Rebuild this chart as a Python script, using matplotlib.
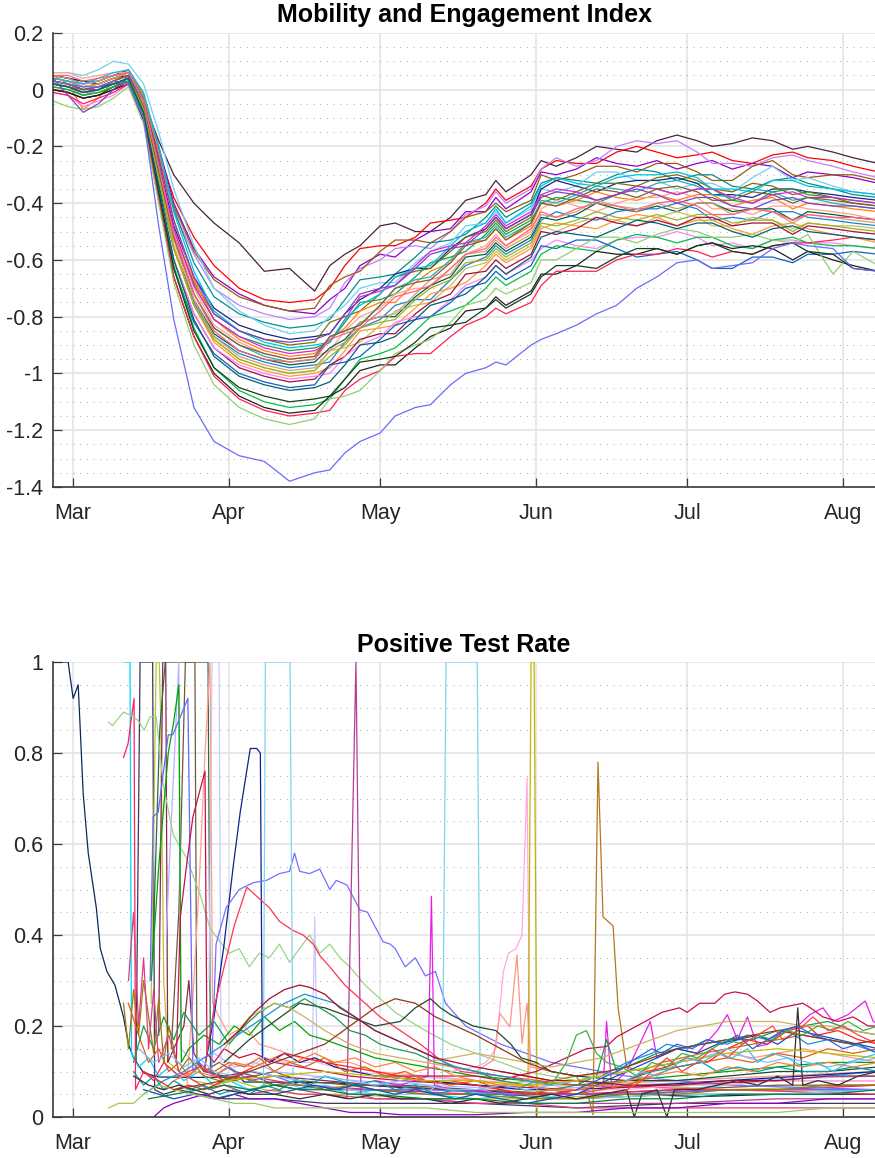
import numpy as np
import pandas as pd
import matplotlib
matplotlib.use('Agg')
import matplotlib.pyplot as plt
import matplotlib.dates as mdates
from matplotlib.ticker import MultipleLocator, FuncFormatter

plt.rcParams['font.family'] = ['Liberation Sans', 'DejaVu Sans']
plt.rcParams['axes.unicode_minus'] = False

# all days are counted from 1 March 2020
DAY0 = pd.Timestamp('2020-03-01')

# ─── Mobility and Engagement Index (one row per region) ───
mobility_days = [-4, -1, 2, 5, 8, 11,
                 14, 17, 20, 24, 28, 33, 38, 43, 48,
                 51, 54, 57, 61, 64, 68, 71, 75, 78, 82, 84, 86, 91,
                 93, 96, 100, 104, 108, 112, 116, 120, 124, 127, 131, 135, 139, 143, 146, 151, 155, 160]

mobility_colors = ['#4a2040', '#ff0000', '#8e00c8', '#c080ff', '#9a5a10', '#009090',
                   '#70d0f0', '#102880', '#807000', '#10a050', '#ff7f10', '#ffa090',
                   '#20b0b0', '#e020e0', '#006040', '#2080d0', '#c0c060', '#ff9930',
                   '#a01040', '#ff80ff', '#1060c0', '#00c040', '#202020', '#ff2050',
                   '#90d070', '#104020', '#d0a070', '#00c0e0', '#806030', '#8040c0',
                   '#a0b020', '#6a6aff', '#ff6080', '#006070']

mobility_values = [
    [0.04, 0.03, 0.01, 0.02, 0.04, 0.06, -0.04, -0.18, -0.30, -0.40, -0.47, -0.54, -0.64, -0.63, -0.71, -0.62, -0.58, -0.55, -0.48, -0.47, -0.50, -0.50, -0.45, -0.39, -0.37, -0.32, -0.36, -0.30, -0.25, -0.27, -0.24, -0.20, -0.21, -0.22, -0.18, -0.16, -0.18, -0.20, -0.19, -0.17, -0.18, -0.21, -0.20, -0.22, -0.24, -0.26],
    [0.03, 0.02, 0.00, 0.01, 0.03, 0.05, -0.06, -0.22, -0.38, -0.52, -0.62, -0.70, -0.74, -0.75, -0.74, -0.70, -0.62, -0.56, -0.55, -0.55, -0.52, -0.47, -0.46, -0.45, -0.40, -0.35, -0.39, -0.34, -0.28, -0.25, -0.26, -0.26, -0.22, -0.20, -0.22, -0.24, -0.23, -0.22, -0.25, -0.26, -0.23, -0.22, -0.24, -0.25, -0.27, -0.29],
    [0.05, 0.04, 0.02, 0.03, 0.05, 0.07, -0.02, -0.20, -0.40, -0.56, -0.66, -0.72, -0.76, -0.78, -0.79, -0.74, -0.70, -0.62, -0.58, -0.59, -0.53, -0.50, -0.49, -0.43, -0.43, -0.38, -0.42, -0.36, -0.29, -0.30, -0.28, -0.24, -0.26, -0.27, -0.25, -0.28, -0.26, -0.25, -0.28, -0.26, -0.27, -0.31, -0.29, -0.30, -0.31, -0.33],
    [0.02, 0.01, -0.02, 0.00, 0.03, 0.05, -0.07, -0.25, -0.43, -0.58, -0.70, -0.76, -0.79, -0.81, -0.80, -0.77, -0.68, -0.63, -0.60, -0.56, -0.55, -0.56, -0.50, -0.44, -0.41, -0.36, -0.40, -0.35, -0.28, -0.24, -0.27, -0.25, -0.20, -0.18, -0.19, -0.18, -0.22, -0.26, -0.26, -0.27, -0.24, -0.23, -0.25, -0.27, -0.29, -0.31],
    [0.03, 0.02, 0.00, 0.01, 0.02, 0.04, -0.06, -0.24, -0.41, -0.57, -0.67, -0.73, -0.76, -0.78, -0.77, -0.69, -0.66, -0.64, -0.57, -0.53, -0.53, -0.54, -0.50, -0.45, -0.43, -0.40, -0.43, -0.39, -0.30, -0.32, -0.30, -0.27, -0.27, -0.29, -0.26, -0.26, -0.29, -0.32, -0.32, -0.27, -0.25, -0.30, -0.31, -0.30, -0.30, -0.32],
    [0.05, 0.04, 0.03, 0.03, 0.05, 0.06, -0.03, -0.21, -0.42, -0.61, -0.73, -0.79, -0.82, -0.84, -0.83, -0.81, -0.74, -0.67, -0.66, -0.65, -0.59, -0.54, -0.53, -0.51, -0.45, -0.41, -0.45, -0.40, -0.33, -0.31, -0.32, -0.33, -0.30, -0.28, -0.29, -0.32, -0.30, -0.30, -0.34, -0.35, -0.32, -0.31, -0.33, -0.35, -0.37, -0.38],
    [0.06, 0.06, 0.05, 0.07, 0.10, 0.09, 0.02, -0.15, -0.35, -0.55, -0.70, -0.78, -0.83, -0.86, -0.85, -0.80, -0.76, -0.70, -0.68, -0.68, -0.61, -0.57, -0.54, -0.48, -0.47, -0.43, -0.47, -0.42, -0.35, -0.36, -0.34, -0.29, -0.29, -0.32, -0.32, -0.35, -0.33, -0.33, -0.36, -0.31, -0.27, -0.32, -0.31, -0.34, -0.36, -0.37],
    [0.05, 0.04, 0.03, 0.02, 0.04, 0.05, -0.06, -0.26, -0.48, -0.66, -0.77, -0.83, -0.86, -0.88, -0.87, -0.86, -0.79, -0.74, -0.70, -0.65, -0.63, -0.63, -0.56, -0.52, -0.49, -0.45, -0.49, -0.44, -0.35, -0.32, -0.34, -0.36, -0.33, -0.32, -0.32, -0.31, -0.33, -0.37, -0.37, -0.38, -0.35, -0.35, -0.36, -0.37, -0.38, -0.39],
    [0.01, 0.00, -0.02, -0.01, 0.01, 0.04, -0.08, -0.30, -0.50, -0.68, -0.79, -0.85, -0.88, -0.90, -0.89, -0.82, -0.80, -0.78, -0.72, -0.66, -0.64, -0.63, -0.57, -0.52, -0.50, -0.46, -0.50, -0.45, -0.37, -0.39, -0.36, -0.33, -0.33, -0.34, -0.31, -0.30, -0.32, -0.35, -0.36, -0.33, -0.34, -0.37, -0.36, -0.38, -0.40, -0.41],
    [0.02, 0.01, -0.01, 0.00, 0.02, 0.04, -0.07, -0.29, -0.51, -0.69, -0.81, -0.87, -0.90, -0.92, -0.91, -0.89, -0.82, -0.75, -0.74, -0.72, -0.66, -0.61, -0.59, -0.57, -0.51, -0.47, -0.51, -0.46, -0.40, -0.38, -0.39, -0.40, -0.37, -0.34, -0.35, -0.37, -0.35, -0.35, -0.39, -0.40, -0.36, -0.35, -0.37, -0.38, -0.39, -0.40],
    [0.05, 0.02, -0.07, -0.03, 0.03, 0.07, -0.02, -0.22, -0.46, -0.67, -0.81, -0.88, -0.92, -0.94, -0.93, -0.88, -0.84, -0.78, -0.75, -0.75, -0.68, -0.64, -0.61, -0.54, -0.53, -0.49, -0.53, -0.48, -0.40, -0.41, -0.39, -0.36, -0.38, -0.39, -0.37, -0.39, -0.37, -0.37, -0.41, -0.39, -0.38, -0.42, -0.40, -0.41, -0.42, -0.43],
    [0.06, 0.06, 0.04, 0.05, 0.06, 0.06, -0.04, -0.27, -0.50, -0.70, -0.83, -0.89, -0.93, -0.95, -0.94, -0.92, -0.85, -0.80, -0.77, -0.72, -0.70, -0.70, -0.63, -0.58, -0.55, -0.51, -0.55, -0.50, -0.42, -0.39, -0.41, -0.43, -0.40, -0.38, -0.38, -0.36, -0.38, -0.42, -0.42, -0.44, -0.41, -0.41, -0.42, -0.43, -0.44, -0.46],
    [0.03, 0.02, 0.01, 0.02, 0.04, 0.06, -0.05, -0.28, -0.52, -0.72, -0.84, -0.90, -0.94, -0.96, -0.95, -0.87, -0.85, -0.83, -0.76, -0.70, -0.67, -0.66, -0.60, -0.54, -0.52, -0.48, -0.52, -0.47, -0.39, -0.40, -0.37, -0.34, -0.35, -0.36, -0.33, -0.32, -0.34, -0.37, -0.38, -0.35, -0.36, -0.39, -0.38, -0.40, -0.41, -0.42],
    [0.02, 0.01, 0.00, 0.00, 0.03, 0.05, -0.06, -0.27, -0.49, -0.69, -0.81, -0.87, -0.91, -0.93, -0.92, -0.89, -0.81, -0.73, -0.71, -0.69, -0.62, -0.57, -0.55, -0.54, -0.48, -0.44, -0.48, -0.43, -0.37, -0.35, -0.36, -0.39, -0.37, -0.34, -0.35, -0.37, -0.35, -0.35, -0.38, -0.40, -0.37, -0.36, -0.38, -0.38, -0.39, -0.40],
    [0.00, -0.01, -0.03, -0.02, 0.01, 0.03, -0.09, -0.33, -0.56, -0.74, -0.86, -0.92, -0.95, -0.97, -0.96, -0.91, -0.88, -0.82, -0.80, -0.80, -0.73, -0.69, -0.66, -0.59, -0.58, -0.54, -0.57, -0.52, -0.45, -0.46, -0.44, -0.40, -0.42, -0.43, -0.41, -0.43, -0.40, -0.40, -0.43, -0.42, -0.42, -0.46, -0.43, -0.44, -0.45, -0.46],
    [0.02, 0.01, -0.01, 0.00, 0.02, 0.04, -0.08, -0.32, -0.56, -0.75, -0.87, -0.93, -0.96, -0.98, -0.97, -0.96, -0.89, -0.84, -0.81, -0.76, -0.74, -0.74, -0.67, -0.62, -0.59, -0.55, -0.58, -0.53, -0.46, -0.43, -0.45, -0.46, -0.43, -0.42, -0.42, -0.40, -0.42, -0.46, -0.45, -0.46, -0.43, -0.43, -0.45, -0.46, -0.47, -0.48],
    [0.02, 0.02, 0.00, 0.01, 0.03, 0.05, -0.07, -0.31, -0.56, -0.76, -0.88, -0.95, -0.98, -1.00, -0.99, -0.92, -0.91, -0.89, -0.83, -0.78, -0.76, -0.75, -0.69, -0.63, -0.61, -0.57, -0.60, -0.55, -0.48, -0.50, -0.47, -0.45, -0.46, -0.48, -0.45, -0.43, -0.45, -0.48, -0.48, -0.45, -0.46, -0.49, -0.47, -0.48, -0.48, -0.49],
    [0.04, 0.03, 0.01, 0.02, 0.04, 0.06, -0.05, -0.29, -0.55, -0.76, -0.89, -0.96, -0.99, -1.01, -1.00, -0.98, -0.92, -0.85, -0.84, -0.83, -0.77, -0.72, -0.70, -0.68, -0.62, -0.58, -0.61, -0.56, -0.49, -0.47, -0.48, -0.49, -0.46, -0.44, -0.45, -0.48, -0.46, -0.46, -0.49, -0.51, -0.48, -0.47, -0.49, -0.51, -0.52, -0.54],
    [0.00, -0.01, -0.03, -0.02, 0.00, 0.03, -0.10, -0.36, -0.60, -0.79, -0.91, -0.98, -1.01, -1.03, -1.02, -0.97, -0.94, -0.88, -0.86, -0.86, -0.79, -0.75, -0.72, -0.65, -0.64, -0.60, -0.63, -0.58, -0.50, -0.51, -0.49, -0.45, -0.47, -0.48, -0.46, -0.48, -0.45, -0.45, -0.48, -0.47, -0.47, -0.51, -0.48, -0.49, -0.50, -0.51],
    [-0.01, -0.02, -0.06, -0.04, -0.02, 0.02, -0.11, -0.36, -0.60, -0.79, -0.91, -0.97, -1.00, -1.02, -1.01, -1.00, -0.94, -0.90, -0.87, -0.82, -0.80, -0.80, -0.74, -0.69, -0.66, -0.62, -0.65, -0.60, -0.56, -0.53, -0.55, -0.56, -0.53, -0.52, -0.52, -0.50, -0.52, -0.55, -0.54, -0.56, -0.53, -0.53, -0.54, -0.54, -0.55, -0.56],
    [0.03, 0.02, 0.00, 0.01, 0.02, 0.03, -0.10, -0.38, -0.63, -0.82, -0.93, -1.00, -1.03, -1.05, -1.04, -0.97, -0.96, -0.94, -0.88, -0.83, -0.81, -0.80, -0.75, -0.70, -0.68, -0.64, -0.67, -0.62, -0.55, -0.56, -0.53, -0.53, -0.56, -0.59, -0.58, -0.57, -0.60, -0.63, -0.63, -0.59, -0.59, -0.61, -0.58, -0.58, -0.57, -0.58],
    [0.01, 0.00, -0.02, -0.01, 0.01, 0.03, -0.09, -0.36, -0.62, -0.84, -0.98, -1.06, -1.10, -1.12, -1.11, -1.09, -1.02, -0.95, -0.93, -0.91, -0.85, -0.80, -0.78, -0.76, -0.70, -0.66, -0.69, -0.64, -0.58, -0.55, -0.56, -0.57, -0.53, -0.51, -0.52, -0.54, -0.52, -0.52, -0.55, -0.56, -0.53, -0.52, -0.54, -0.55, -0.55, -0.56],
    [0.00, -0.01, -0.03, -0.02, 0.00, 0.02, -0.11, -0.39, -0.66, -0.87, -1.00, -1.08, -1.12, -1.14, -1.13, -1.08, -1.05, -0.99, -0.97, -0.97, -0.91, -0.87, -0.84, -0.78, -0.77, -0.73, -0.76, -0.71, -0.65, -0.65, -0.62, -0.57, -0.58, -0.58, -0.56, -0.58, -0.55, -0.54, -0.56, -0.55, -0.56, -0.60, -0.57, -0.60, -0.62, -0.64],
    [-0.01, -0.02, -0.05, -0.03, -0.01, 0.02, -0.10, -0.38, -0.66, -0.87, -1.01, -1.09, -1.13, -1.15, -1.14, -1.13, -1.06, -1.02, -0.99, -0.94, -0.93, -0.93, -0.87, -0.83, -0.80, -0.77, -0.79, -0.75, -0.69, -0.64, -0.64, -0.64, -0.60, -0.58, -0.58, -0.56, -0.57, -0.59, -0.57, -0.58, -0.55, -0.54, -0.54, -0.53, -0.52, -0.53],
    [-0.04, -0.06, -0.07, -0.06, -0.03, 0.01, -0.12, -0.40, -0.68, -0.90, -1.04, -1.12, -1.16, -1.18, -1.16, -1.09, -1.08, -1.06, -0.99, -0.93, -0.90, -0.88, -0.82, -0.76, -0.74, -0.70, -0.72, -0.68, -0.60, -0.60, -0.56, -0.52, -0.52, -0.54, -0.51, -0.49, -0.50, -0.52, -0.52, -0.51, -0.53, -0.54, -0.51, -0.65, -0.57, -0.62],
    [0.02, 0.01, -0.01, 0.00, 0.02, 0.04, -0.08, -0.36, -0.63, -0.85, -0.98, -1.05, -1.08, -1.10, -1.09, -1.08, -1.02, -0.96, -0.95, -0.94, -0.89, -0.84, -0.83, -0.82, -0.77, -0.74, -0.77, -0.72, -0.66, -0.62, -0.62, -0.63, -0.59, -0.56, -0.56, -0.58, -0.55, -0.54, -0.57, -0.58, -0.55, -0.54, -0.57, -0.58, -0.63, -0.64],
    [0.05, 0.04, 0.02, 0.03, 0.05, 0.06, -0.05, -0.28, -0.53, -0.74, -0.87, -0.94, -0.97, -0.99, -0.98, -0.92, -0.89, -0.82, -0.80, -0.79, -0.72, -0.67, -0.65, -0.58, -0.57, -0.53, -0.56, -0.51, -0.44, -0.45, -0.43, -0.39, -0.41, -0.42, -0.40, -0.42, -0.40, -0.40, -0.44, -0.42, -0.43, -0.47, -0.44, -0.45, -0.46, -0.47],
    [0.04, 0.03, 0.02, 0.04, 0.06, 0.07, -0.01, -0.20, -0.43, -0.64, -0.78, -0.85, -0.89, -0.91, -0.90, -0.89, -0.81, -0.76, -0.72, -0.66, -0.63, -0.62, -0.55, -0.50, -0.47, -0.42, -0.47, -0.41, -0.34, -0.31, -0.33, -0.34, -0.31, -0.30, -0.30, -0.29, -0.31, -0.35, -0.35, -0.36, -0.32, -0.32, -0.34, -0.35, -0.36, -0.37],
    [0.03, 0.02, 0.00, 0.01, 0.03, 0.05, -0.06, -0.29, -0.52, -0.72, -0.84, -0.90, -0.93, -0.95, -0.94, -0.87, -0.85, -0.83, -0.76, -0.70, -0.68, -0.67, -0.61, -0.55, -0.53, -0.49, -0.53, -0.47, -0.40, -0.41, -0.38, -0.35, -0.36, -0.38, -0.35, -0.34, -0.36, -0.39, -0.39, -0.36, -0.37, -0.40, -0.38, -0.39, -0.40, -0.41],
    [0.04, -0.02, -0.08, -0.05, 0.00, 0.05, -0.04, -0.24, -0.46, -0.66, -0.79, -0.85, -0.88, -0.89, -0.88, -0.86, -0.79, -0.72, -0.70, -0.69, -0.63, -0.58, -0.56, -0.55, -0.49, -0.45, -0.49, -0.44, -0.38, -0.36, -0.37, -0.39, -0.37, -0.35, -0.37, -0.40, -0.38, -0.38, -0.41, -0.42, -0.39, -0.38, -0.40, -0.41, -0.41, -0.42],
    [0.02, 0.01, -0.01, 0.00, 0.02, 0.04, -0.07, -0.31, -0.56, -0.76, -0.88, -0.95, -0.98, -1.00, -0.99, -0.94, -0.90, -0.84, -0.82, -0.81, -0.74, -0.70, -0.67, -0.61, -0.60, -0.56, -0.59, -0.54, -0.47, -0.48, -0.46, -0.43, -0.45, -0.46, -0.44, -0.46, -0.44, -0.44, -0.47, -0.46, -0.46, -0.50, -0.47, -0.48, -0.49, -0.50],
    [0.03, 0.02, 0.01, 0.01, 0.03, 0.02, -0.10, -0.48, -0.81, -1.12, -1.24, -1.29, -1.31, -1.38, -1.35, -1.34, -1.28, -1.24, -1.21, -1.15, -1.12, -1.11, -1.04, -1.00, -0.98, -0.96, -0.97, -0.90, -0.88, -0.86, -0.83, -0.79, -0.76, -0.70, -0.66, -0.61, -0.60, -0.63, -0.62, -0.61, -0.56, -0.54, -0.55, -0.56, -0.63, -0.64],
    [0.05, 0.05, 0.03, 0.04, 0.05, 0.06, -0.04, -0.27, -0.51, -0.72, -0.85, -0.92, -0.95, -0.96, -0.95, -0.88, -0.86, -0.84, -0.78, -0.73, -0.71, -0.69, -0.63, -0.58, -0.56, -0.52, -0.55, -0.49, -0.43, -0.45, -0.42, -0.40, -0.41, -0.43, -0.40, -0.39, -0.41, -0.44, -0.44, -0.42, -0.43, -0.46, -0.44, -0.45, -0.45, -0.46],
    [0.02, 0.01, -0.01, 0.00, 0.02, 0.04, -0.08, -0.34, -0.60, -0.81, -0.94, -1.01, -1.04, -1.06, -1.05, -1.03, -0.97, -0.90, -0.89, -0.87, -0.81, -0.76, -0.74, -0.72, -0.66, -0.62, -0.65, -0.59, -0.52, -0.50, -0.51, -0.52, -0.49, -0.46, -0.47, -0.49, -0.47, -0.47, -0.50, -0.52, -0.49, -0.48, -0.50, -0.51, -0.52, -0.53],
]

# ─── Positive test rate: (color, [(day, rate), ...]) per region ───
rate_curves = [
    ('#0b2a5c', [(-4, 1.0), (-1, 1.0), (0, 0.92), (1, 0.95), (2, 0.71), (3, 0.58), (4.6, 0.46), (5.4, 0.37), (6.7, 0.32), (8.3, 0.29), (10, 0.22), (11, 0.16), (12, 0.13), (14, 0.097), (17, 0.088), (25, 0.087), (33, 0.088), (34, 0.077), (45, 0.076), (52, 0.075), (58, 0.07), (65, 0.065), (75, 0.06), (85, 0.055), (95, 0.05), (110, 0.05), (125, 0.045), (140, 0.05), (160, 0.05)]),
    ('#00d4ff', [(10.3, 1.0), (11.3, 1.0), (11.6, 0.14), (13, 0.11), (15, 0.13), (17, 0.09), (19, 0.11), (22, 0.08), (25, 0.10), (28, 0.07), (31, 0.08), (35, 0.06), (40, 0.07), (45, 0.06), (50, 0.07), (55, 0.05), (60, 0.06), (70, 0.05), (80, 0.04), (90, 0.05), (100, 0.04), (110, 0.05), (120, 0.06), (130, 0.07), (140, 0.08), (150, 0.09), (160, 0.10)]),
    ('#383860', [(12.5, 0.12), (13.3, 1.0), (15.8, 1.0), (16.2, 0.06), (18, 0.05), (21, 0.06), (25, 0.05), (30, 0.04), (40, 0.04), (50, 0.03), (60, 0.03), (80, 0.03), (100, 0.02), (120, 0.03), (140, 0.03), (160, 0.03)]),
    ('#b8c430', [(15.5, 0.25), (16.5, 1.0), (17.1, 1.0), (17.4, 0.88), (18, 0.30), (19, 0.12), (21, 0.10), (24, 0.08), (28, 0.07), (32, 0.08), (38, 0.06), (45, 0.05), (55, 0.05), (70, 0.04), (90, 0.04), (110, 0.05), (130, 0.06), (160, 0.07)]),
    ('#8c2848', [(17, 0.18), (17.8, 1.0), (18.4, 1.0), (18.8, 0.12), (20, 0.15), (22, 0.20), (23, 0.30), (24, 0.14), (26, 0.10), (30, 0.09), (35, 0.10), (40, 0.09), (50, 0.08), (60, 0.07), (75, 0.06), (90, 0.05), (110, 0.05), (130, 0.06), (160, 0.06)]),
    ('#2e6a4a', [(15.8, 0.35), (17.2, 0.85), (18.3, 1.0), (26.8, 1.0), (27.3, 0.10), (29, 0.09), (32, 0.08), (36, 0.09), (40, 0.07), (45, 0.08), (50, 0.06), (60, 0.06), (70, 0.05), (85, 0.05), (100, 0.04), (120, 0.05), (140, 0.05), (160, 0.06)]),
    ('#6e5a3a', [(19.5, 0.15), (21, 0.45), (22.3, 1.0), (24.2, 1.0), (24.6, 0.12), (26, 0.10), (29, 0.12), (32, 0.10), (36, 0.09), (40, 0.10), (45, 0.08), (55, 0.07), (65, 0.07), (80, 0.06), (100, 0.05), (120, 0.06), (140, 0.07), (160, 0.07)]),
    ('#b4b4ff', [(18.5, 0.40), (19.3, 0.60), (21.0, 1.0), (21.4, 0.15), (24, 0.12), (28, 0.14), (32, 0.11), (36, 0.12), (40, 0.10), (48, 0.09), (56, 0.08), (70, 0.07), (90, 0.06), (110, 0.07), (130, 0.08), (160, 0.09)]),
    ('#c8c8ff', [(27.0, 0.30), (27.6, 1.0), (29.0, 1.0), (29.4, 0.10), (32, 0.12), (35, 0.11), (38, 0.13), (42, 0.12), (47.5, 0.12), (48, 0.44), (48.5, 0.12), (55, 0.10), (65, 0.09), (80, 0.08), (100, 0.07), (120, 0.08), (140, 0.09), (160, 0.10)]),
    ('#ffa088', [(22.5, 0.05), (24, 0.30), (25, 0.50), (26.2, 0.80), (27.2, 1.0), (27.7, 0.25), (29, 0.22), (31, 0.18), (34, 0.20), (37, 0.16), (40, 0.15), (45, 0.13), (50, 0.12), (55, 0.12), (60, 0.10), (70, 0.09), (80, 0.08), (90, 0.07), (100, 0.07), (120, 0.08), (140, 0.09), (160, 0.10)]),
    ('#ff2060', [(10, 0.79), (10.9, 0.82), (12.1, 0.92), (12.4, 0.06), (14, 0.10), (16, 0.08), (18, 0.12), (21, 0.09), (25, 0.11), (30, 0.08), (35, 0.09), (45, 0.07), (60, 0.06), (80, 0.05), (100, 0.05), (120, 0.06), (140, 0.06), (160, 0.07)]),
    ('#98d488', [(7, 0.868), (7.8, 0.86), (10, 0.89), (12, 0.88), (13, 0.87), (14.1, 0.85), (15.3, 0.88), (16.5, 0.88), (17.9, 0.73), (19.9, 0.62), (22.5, 0.57), (25.2, 0.49), (27.2, 0.415), (29.2, 0.385), (31, 0.36), (33, 0.37), (35, 0.33), (37, 0.36), (39, 0.35), (41, 0.38), (43, 0.34), (45, 0.37), (47, 0.40), (49, 0.36), (51, 0.38), (53, 0.35), (55, 0.33), (58, 0.29), (61, 0.26), (64, 0.23), (67, 0.21), (70, 0.19), (75, 0.16), (80, 0.14), (85, 0.12), (90, 0.10), (100, 0.08), (115, 0.07), (130, 0.06), (160, 0.06)]),
    ('#00a400', [(15.5, 0.30), (17, 0.55), (18.9, 0.80), (20, 0.87), (21, 0.95), (21.5, 0.12), (23, 0.15), (26, 0.18), (29, 0.16), (32, 0.20), (35, 0.18), (38, 0.22), (41, 0.19), (44, 0.21), (47, 0.18), (50, 0.17), (55, 0.15), (60, 0.13), (70, 0.11), (80, 0.09), (90, 0.08), (100, 0.07), (110, 0.08), (120, 0.09), (130, 0.10), (140, 0.11), (150, 0.12), (160, 0.12)]),
    ('#6666ff', [(15.3, 0.30), (15.9, 0.66), (16.9, 0.67), (18.9, 0.84), (19.8, 0.84), (22.8, 0.92), (23.8, 0.10), (25, 0.12), (28, 0.09), (31, 0.11), (35, 0.08), (40, 0.09), (45, 0.07), (55, 0.06), (70, 0.06), (90, 0.05), (110, 0.05), (130, 0.06), (160, 0.06)]),
    ('#c81048', [(20.5, 0.12), (21.3, 0.44), (22.5, 0.55), (23.8, 0.66), (26.2, 0.76), (26.6, 0.14), (28, 0.12), (30, 0.15), (33, 0.13), (36, 0.14), (40, 0.12), (45, 0.11), (55, 0.09), (65, 0.08), (80, 0.07), (100, 0.06), (120, 0.07), (140, 0.08), (160, 0.08)]),
    ('#102090', [(26, 0.10), (28, 0.22), (30, 0.38), (31.8, 0.55), (33.2, 0.67), (35.2, 0.81), (36.5, 0.81), (37.2, 0.80), (37.6, 0.13), (39, 0.12), (42, 0.14), (45, 0.12), (48, 0.13), (52, 0.11), (56, 0.10), (60, 0.09), (70, 0.08), (80, 0.07), (90, 0.06), (100, 0.06), (115, 0.07), (130, 0.08), (145, 0.09), (160, 0.10)]),
    ('#7070ff', [(27.5, 0.10), (28.4, 0.38), (30.4, 0.46), (33, 0.50), (35.8, 0.515), (38.4, 0.52), (41, 0.535), (43, 0.54), (44, 0.58), (45, 0.54), (47, 0.535), (49, 0.545), (51, 0.50), (52.3, 0.52), (54.4, 0.51), (57, 0.455), (58.5, 0.45), (61.6, 0.385), (63, 0.38), (64, 0.37), (66, 0.33), (68, 0.35), (70, 0.31), (72, 0.32), (74, 0.25), (78, 0.20), (85, 0.16), (95, 0.12), (110, 0.09), (130, 0.07), (160, 0.06)]),
    ('#ff3355', [(26, 0.10), (28, 0.24), (30, 0.33), (32, 0.42), (34.5, 0.505), (36, 0.49), (37, 0.48), (39, 0.46), (41, 0.43), (43.7, 0.41), (45.7, 0.40), (47.7, 0.38), (49, 0.355), (51, 0.33), (54, 0.29), (57, 0.26), (61, 0.22), (65, 0.19), (69, 0.16), (73, 0.125), (77, 0.10), (85, 0.09), (100, 0.07), (130, 0.06), (160, 0.05)]),
    ('#80d4f0', [(30, 0.07), (36, 0.06), (37.8, 0.07), (38.2, 1.0), (43.1, 1.0), (43.7, 0.07), (46, 0.06), (50, 0.07), (55, 0.06), (60, 0.05), (70, 0.05), (73.4, 0.08), (74.1, 1.0), (80.3, 1.0), (80.9, 0.06), (85, 0.05), (90, 0.05), (100, 0.04), (120, 0.05), (140, 0.05), (160, 0.06)]),
    ('#b43c94', [(40, 0.07), (45, 0.06), (50, 0.05), (54.4, 0.04), (56.2, 1.0), (57.2, 0.05), (60, 0.04), (70, 0.04), (80, 0.03), (100, 0.03), (120, 0.03), (140, 0.04), (160, 0.04)]),
    ('#e81ee8', [(60, 0.08), (65, 0.07), (70.5, 0.09), (71.2, 0.485), (71.8, 0.07), (75, 0.06), (80, 0.06), (85, 0.05), (90, 0.05), (95, 0.05), (100, 0.05), (103, 0.06), (105.3, 0.06), (106, 0.21), (107, 0.07), (110, 0.10), (114.7, 0.21), (116, 0.13), (120, 0.15), (124, 0.14), (128, 0.19), (130, 0.225), (132, 0.17), (134, 0.22), (136, 0.155), (138, 0.16), (141, 0.19), (144, 0.20), (146.4, 0.225), (149, 0.24), (151, 0.21), (154, 0.225), (157.4, 0.255), (159, 0.21), (161, 0.20)]),
    ('#ffa8e0', [(75, 0.10), (80, 0.11), (82, 0.12), (84, 0.15), (85.5, 0.32), (86.5, 0.36), (88, 0.37), (89.2, 0.40), (90.2, 0.745), (90.8, 0.08), (95, 0.07), (100, 0.06), (110, 0.06), (120, 0.07), (130, 0.07), (140, 0.08), (160, 0.08)]),
    ('#ff9484', [(70, 0.12), (75, 0.11), (80, 0.10), (83.5, 0.125), (84.8, 0.228), (86.8, 0.198), (88.2, 0.356), (89.2, 0.162), (90.2, 0.25), (91, 0.11), (95, 0.10), (100, 0.09), (110, 0.10), (120, 0.12), (125, 0.13), (130, 0.14), (135, 0.13), (140, 0.14), (145, 0.15), (150, 0.14), (155, 0.13), (160, 0.12)]),
    ('#c4b400', [(80, 0.08), (85, 0.07), (90.4, 0.08), (91.0, 1.0), (91.6, 1.0), (92.2, 0.005)]),
    ('#b4781c', [(85, 0.10), (90, 0.09), (95, 0.08), (100, 0.09), (102.5, 0.04), (103.3, 0.005), (104.3, 0.78), (105.3, 0.44), (107.3, 0.42), (108.3, 0.24), (110, 0.11), (113, 0.10), (117, 0.12), (121, 0.13), (125, 0.14), (130, 0.15), (135, 0.16), (140, 0.17), (145, 0.18), (150, 0.17), (155, 0.16), (160, 0.17)]),
    ('#c8104a', [(60, 0.09), (70, 0.09), (80, 0.09), (85, 0.08), (88, 0.09), (92, 0.10), (94, 0.11), (98, 0.13), (102, 0.15), (106, 0.155), (108, 0.176), (112, 0.20), (117, 0.23), (120.5, 0.24), (122, 0.23), (124.5, 0.25), (127.5, 0.25), (129.5, 0.27), (131.5, 0.275), (134, 0.27), (136, 0.255), (138.5, 0.23), (140.5, 0.24), (145, 0.25), (146.5, 0.24), (149, 0.22), (152, 0.21), (155, 0.22), (158, 0.20), (160, 0.20)]),
    ('#1c4a2a', [(30, 0.12), (35, 0.17), (40, 0.21), (45, 0.25), (50, 0.24), (55, 0.22), (60, 0.20), (65, 0.21), (68, 0.24), (71, 0.26), (73, 0.24), (75, 0.225), (79.5, 0.20), (84, 0.19), (87, 0.16), (89, 0.13), (92, 0.12), (95, 0.10), (100, 0.09), (110, 0.08), (120, 0.08), (130, 0.09), (140, 0.10), (150, 0.10), (160, 0.11)]),
    ('#e06010', [(11, 0.25), (13, 0.18), (15, 0.12), (17, 0.15), (19, 0.10), (21, 0.12), (23, 0.09), (25, 0.11), (28, 0.10), (31, 0.12), (34, 0.11), (37, 0.13), (40, 0.10), (43, 0.12), (46, 0.11), (50, 0.13), (54, 0.10), (58, 0.11), (62, 0.09), (66, 0.10), (70, 0.08), (75, 0.07), (80, 0.08), (85, 0.06), (90, 0.05), (95, 0.06), (100, 0.05), (105, 0.06), (110, 0.07), (115, 0.09), (120, 0.11), (125, 0.12), (130, 0.13), (135, 0.12), (140, 0.14), (145, 0.13), (150, 0.15), (155, 0.14), (160, 0.15)]),
    ('#1a9a50', [(12, 0.12), (14, 0.20), (16, 0.15), (18, 0.22), (20, 0.17), (22, 0.23), (25, 0.18), (28, 0.21), (31, 0.16), (34, 0.20), (37, 0.23), (40, 0.25), (43, 0.24), (46, 0.26), (49, 0.24), (52, 0.22), (55, 0.19), (58, 0.18), (61, 0.16), (64, 0.15), (68, 0.14), (72, 0.12), (76, 0.11), (80, 0.10), (85, 0.08), (90, 0.07), (95, 0.06), (100, 0.07), (104, 0.09), (106, 0.17), (108, 0.10), (112, 0.12), (116, 0.14), (120, 0.15), (125, 0.16), (130, 0.17), (135, 0.17), (140, 0.19), (145, 0.20), (150, 0.21), (155, 0.19), (160, 0.18)]),
    ('#2090d0', [(14, 0.05), (18, 0.08), (22, 0.10), (26, 0.13), (30, 0.16), (34, 0.19), (38, 0.22), (42, 0.25), (46, 0.27), (49, 0.26), (52, 0.25), (56, 0.22), (60, 0.19), (64, 0.17), (68, 0.15), (72, 0.13), (76, 0.11), (80, 0.10), (85, 0.09), (90, 0.08), (95, 0.07), (100, 0.08), (105, 0.09), (110, 0.12), (115, 0.14), (118, 0.16), (122, 0.15), (126, 0.17), (130, 0.16), (134, 0.18), (138, 0.17), (142, 0.19), (146, 0.16), (150, 0.17), (155, 0.16), (160, 0.14)]),
    ('#9a7a10', [(10, 0.25), (11, 0.15), (12, 0.28), (13, 0.18), (14, 0.30), (15, 0.22), (16, 0.14), (17, 0.26), (18, 0.12), (19, 0.20), (21, 0.10), (23, 0.13), (26, 0.09), (29, 0.08), (32, 0.09), (36, 0.08), (40, 0.07), (45, 0.07), (50, 0.06), (55, 0.07), (60, 0.06), (70, 0.05), (80, 0.05), (90, 0.04), (100, 0.04), (110, 0.05), (120, 0.05), (130, 0.06), (140, 0.06), (150, 0.07), (160, 0.07)]),
    ('#e04080', [(11, 0.30), (12, 0.45), (13, 0.20), (14, 0.35), (15, 0.15), (16, 0.28), (17, 0.12), (19, 0.18), (21, 0.10), (24, 0.08), (27, 0.06), (30, 0.07), (35, 0.05), (40, 0.06), (45, 0.05), (50, 0.05), (60, 0.04), (70, 0.04), (80, 0.03), (90, 0.03), (100, 0.02), (120, 0.02), (140, 0.02), (160, 0.02)]),
    ('#00a0a0', [(12, 0.10), (14, 0.07), (16, 0.09), (18, 0.06), (20, 0.08), (23, 0.06), (26, 0.07), (29, 0.05), (32, 0.06), (35, 0.05), (38, 0.07), (41, 0.06), (44, 0.08), (47, 0.07), (50, 0.09), (53, 0.08), (56, 0.07), (60, 0.08), (64, 0.06), (68, 0.07), (72, 0.05), (76, 0.06), (80, 0.05), (85, 0.05), (90, 0.04), (95, 0.05), (100, 0.06), (105, 0.07), (110, 0.08), (115, 0.10), (120, 0.11), (125, 0.12), (128, 0.10), (132, 0.11), (136, 0.10), (140, 0.11), (145, 0.10), (150, 0.10), (155, 0.11), (160, 0.10)]),
    ('#9000c0', [(16, 0.0), (18, 0.02), (20, 0.03), (23, 0.04), (26, 0.05), (29, 0.04), (32, 0.05), (35, 0.04), (40, 0.04), (45, 0.03), (50, 0.02), (55, 0.01), (60, 0.01), (65, 0.005), (70, 0.005), (80, 0.005), (90, 0.01), (100, 0.01), (110, 0.02), (120, 0.02), (130, 0.03), (140, 0.03), (150, 0.04), (160, 0.04)]),
    ('#ff2020', [(14, 0.10), (17, 0.08), (20, 0.06), (23, 0.07), (26, 0.06), (30, 0.08), (34, 0.10), (38, 0.12), (42, 0.14), (46, 0.13), (50, 0.12), (55, 0.11), (60, 0.10), (65, 0.09), (70, 0.08), (75, 0.08), (80, 0.07), (85, 0.06), (90, 0.05), (95, 0.05), (100, 0.06), (105, 0.07), (110, 0.08), (114, 0.10), (118, 0.11), (122, 0.13), (126, 0.12), (130, 0.15), (134, 0.17), (138, 0.16), (142, 0.19), (146, 0.20), (148, 0.18), (152, 0.19), (156, 0.17), (160, 0.16)]),
    ('#1050b0', [(14, 0.06), (17, 0.05), (20, 0.04), (24, 0.05), (28, 0.04), (32, 0.05), (36, 0.06), (40, 0.05), (44, 0.06), (48, 0.07), (52, 0.06), (56, 0.07), (60, 0.06), (64, 0.05), (68, 0.06), (72, 0.05), (76, 0.04), (80, 0.05), (85, 0.04), (90, 0.03), (95, 0.04), (100, 0.05), (104, 0.07), (108, 0.09), (112, 0.11), (116, 0.13), (120, 0.15), (124, 0.14), (128, 0.16), (132, 0.17), (136, 0.18), (140, 0.16), (144, 0.19), (148, 0.18), (152, 0.17), (156, 0.16), (160, 0.15)]),
    ('#d0b060', [(30, 0.15), (35, 0.22), (40, 0.25), (43, 0.24), (46, 0.22), (50, 0.19), (55, 0.16), (60, 0.14), (65, 0.13), (70, 0.12), (75, 0.13), (80, 0.14), (85, 0.13), (90, 0.12), (95, 0.11), (100, 0.12), (105, 0.13), (110, 0.15), (115, 0.17), (120, 0.19), (125, 0.20), (130, 0.21), (135, 0.21), (140, 0.21), (145, 0.20), (150, 0.20), (155, 0.19), (160, 0.18)]),
    ('#303030', [(12, 0.09), (15, 0.07), (18, 0.06), (21, 0.07), (24, 0.06), (27, 0.05), (30, 0.06), (35, 0.05), (40, 0.05), (45, 0.04), (50, 0.05), (55, 0.04), (60, 0.05), (65, 0.04), (70, 0.04), (75, 0.03), (80, 0.04), (85, 0.03), (90, 0.04), (95, 0.05), (100, 0.04), (105, 0.05), (110, 0.06), (111.5, 0.0), (113, 0.05), (116, 0.06), (118, 0.0), (119.5, 0.06), (124, 0.06), (128, 0.07), (132, 0.08), (136, 0.07), (140, 0.09), (143, 0.07), (144, 0.24), (145, 0.07), (148, 0.08), (152, 0.07), (156, 0.09), (160, 0.10)]),
    ('#80c0ff', [(13, 0.15), (16, 0.12), (19, 0.14), (22, 0.11), (25, 0.13), (28, 0.10), (32, 0.09), (36, 0.10), (40, 0.09), (45, 0.08), (50, 0.09), (55, 0.08), (60, 0.07), (65, 0.08), (70, 0.07), (75, 0.06), (80, 0.06), (85, 0.07), (90, 0.06), (95, 0.07), (100, 0.08), (105, 0.09), (110, 0.10), (115, 0.11), (120, 0.12), (125, 0.13), (130, 0.15), (134, 0.13), (138, 0.12), (142, 0.13), (146, 0.12), (150, 0.11), (155, 0.12), (160, 0.13)]),
    ('#a0c860', [(7, 0.02), (9, 0.03), (12, 0.03), (14, 0.05), (17, 0.07), (20, 0.06), (24, 0.05), (28, 0.04), (32, 0.03), (36, 0.03), (40, 0.02), (45, 0.02), (50, 0.02), (60, 0.02), (70, 0.02), (80, 0.01), (90, 0.01), (100, 0.01), (110, 0.01), (120, 0.01), (130, 0.01), (140, 0.01), (150, 0.02), (160, 0.02)]),
    ('#ff8040', [(20, 0.08), (24, 0.10), (28, 0.09), (32, 0.12), (36, 0.11), (40, 0.13), (44, 0.12), (48, 0.14), (52, 0.12), (56, 0.13), (60, 0.11), (64, 0.12), (68, 0.10), (72, 0.11), (76, 0.09), (80, 0.08), (85, 0.07), (90, 0.07), (95, 0.06), (100, 0.06), (105, 0.07), (110, 0.08), (115, 0.09), (120, 0.10), (125, 0.09), (130, 0.11), (135, 0.10), (140, 0.12), (145, 0.11), (150, 0.12), (155, 0.11), (160, 0.12)]),
    ('#008040', [(15, 0.04), (20, 0.05), (25, 0.06), (30, 0.07), (35, 0.06), (40, 0.07), (45, 0.06), (50, 0.06), (55, 0.05), (60, 0.05), (70, 0.04), (80, 0.04), (90, 0.03), (100, 0.03), (110, 0.04), (120, 0.04), (130, 0.05), (140, 0.05), (150, 0.05), (160, 0.06)]),
    ('#8a3a1a', [(20, 0.06), (30, 0.08), (40, 0.12), (50, 0.16), (55, 0.20), (60, 0.24), (64, 0.26), (68, 0.25), (72, 0.22), (76, 0.20), (80, 0.18), (85, 0.15), (90, 0.12), (95, 0.10), (100, 0.09), (106, 0.10), (110, 0.11), (115, 0.13), (120, 0.15), (125, 0.16), (130, 0.17), (135, 0.18), (140, 0.19), (145, 0.18), (150, 0.17), (155, 0.16), (160, 0.17)]),
    ('#a01028', [(30, 0.16), (33, 0.19), (36, 0.23), (39, 0.26), (42, 0.28), (45, 0.29), (47, 0.285), (50, 0.27), (53, 0.24), (56, 0.22), (60, 0.19), (64, 0.17), (68, 0.15), (72, 0.13), (76, 0.12), (80, 0.11), (85, 0.10), (90, 0.09), (95, 0.08), (100, 0.08), (110, 0.07), (120, 0.07), (130, 0.08), (140, 0.08), (150, 0.09), (160, 0.09)]),
    ('#c0c000', [(30, 0.08), (40, 0.09), (50, 0.10), (60, 0.09), (70, 0.08), (80, 0.08), (90, 0.07), (100, 0.08), (110, 0.10), (120, 0.12), (130, 0.14), (140, 0.15), (150, 0.14), (160, 0.13)]),
    ('#40b040', [(88, 0.06), (92, 0.08), (95, 0.07), (98, 0.12), (100, 0.18), (102, 0.19), (104, 0.14), (106, 0.12), (109, 0.11), (112, 0.09), (115, 0.12), (118, 0.11), (121, 0.14), (124, 0.13), (127, 0.15), (130, 0.17), (133, 0.16), (136, 0.18), (139, 0.17), (142, 0.19), (145, 0.18), (148, 0.20), (151, 0.19), (154, 0.21), (157, 0.19), (160, 0.20)]),
    ('#3060e0', [(100, 0.06), (104, 0.08), (108, 0.10), (112, 0.13), (115, 0.15), (117, 0.14), (120, 0.16), (123, 0.15), (126, 0.17), (129, 0.16), (132, 0.18), (135, 0.15), (138, 0.17), (141, 0.19), (144, 0.20), (147, 0.18), (150, 0.17), (153, 0.15), (156, 0.16), (160, 0.14)]),
    ('#ff4040', [(110, 0.06), (113, 0.08), (116, 0.11), (118, 0.13), (121, 0.10), (124, 0.12), (127, 0.15), (130, 0.13), (133, 0.16), (136, 0.18), (139, 0.20), (141, 0.17), (144, 0.19), (147, 0.22), (150, 0.19), (153, 0.20), (156, 0.18), (158, 0.17), (160, 0.16)]),
    ('#4bbbe0', [(110, 0.08), (113, 0.10), (116, 0.09), (119, 0.11), (122, 0.13), (125, 0.12), (128, 0.14), (131, 0.13), (134, 0.15), (136, 0.12), (139, 0.14), (142, 0.13), (145, 0.11), (148, 0.12), (151, 0.10), (154, 0.12), (157, 0.13), (160, 0.14)]),
]


def to_dates(days):
    return DAY0 + pd.to_timedelta(np.asarray(days, dtype=float), unit='D')


def style_axes(ax, ymin, ymax):
    ax.set_xlim(DAY0 - pd.Timedelta(days=4), DAY0 + pd.Timedelta(days=159.35))
    ax.set_ylim(ymin, ymax)
    ax.xaxis.set_major_locator(mdates.MonthLocator())
    ax.xaxis.set_major_formatter(mdates.DateFormatter('%b'))
    ax.yaxis.set_major_locator(MultipleLocator(0.2))
    ax.yaxis.set_minor_locator(MultipleLocator(0.05))
    ax.yaxis.set_major_formatter(FuncFormatter(lambda v, p: f'{round(v, 2) + 0:g}'))
    ax.set_axisbelow(True)
    ax.grid(which='major', color='#e2e2e2', lw=1.1)
    ax.grid(which='minor', axis='y', color='#b8b8b8', lw=0.8, linestyle=(0, (1, 5)))
    for side in ('top', 'right'):
        ax.spines[side].set_visible(False)
    for side in ('left', 'bottom'):
        ax.spines[side].set_color('#3a3a3a')
        ax.spines[side].set_linewidth(1.2)
    ax.tick_params(which='major', direction='in', length=6.5, width=0.9,
                   color='#3a3a3a', labelcolor='#262626', labelsize=15.5)
    ax.tick_params(axis='y', pad=7)
    ax.tick_params(axis='x', pad=11.5)
    ax.tick_params(which='minor', length=0)


fig = plt.figure(figsize=(8.75, 11.58), dpi=100)
ax1 = fig.add_axes([0.0606, 0.5795, 0.9394, 0.3921])
ax2 = fig.add_axes([0.0606, 0.0354, 0.9394, 0.3929])

# top: mobility index
x_top = to_dates(mobility_days)
for color, vals in zip(mobility_colors, mobility_values):
    ax1.plot(x_top, vals, color=color, lw=0.9)
style_axes(ax1, -1.4, 0.2)
ax1.set_title('Mobility and Engagement Index', fontsize=18, fontweight='bold', pad=7.5)

# bottom: positive test rate
for color, pts in rate_curves:
    d, r = zip(*pts)
    ax2.plot(to_dates(d), r, color=color, lw=0.9)
style_axes(ax2, 0, 1)
ax2.set_title('Positive Test Rate', fontsize=18, fontweight='bold', pad=7.5)

fig.savefig('out.png', dpi=100)
